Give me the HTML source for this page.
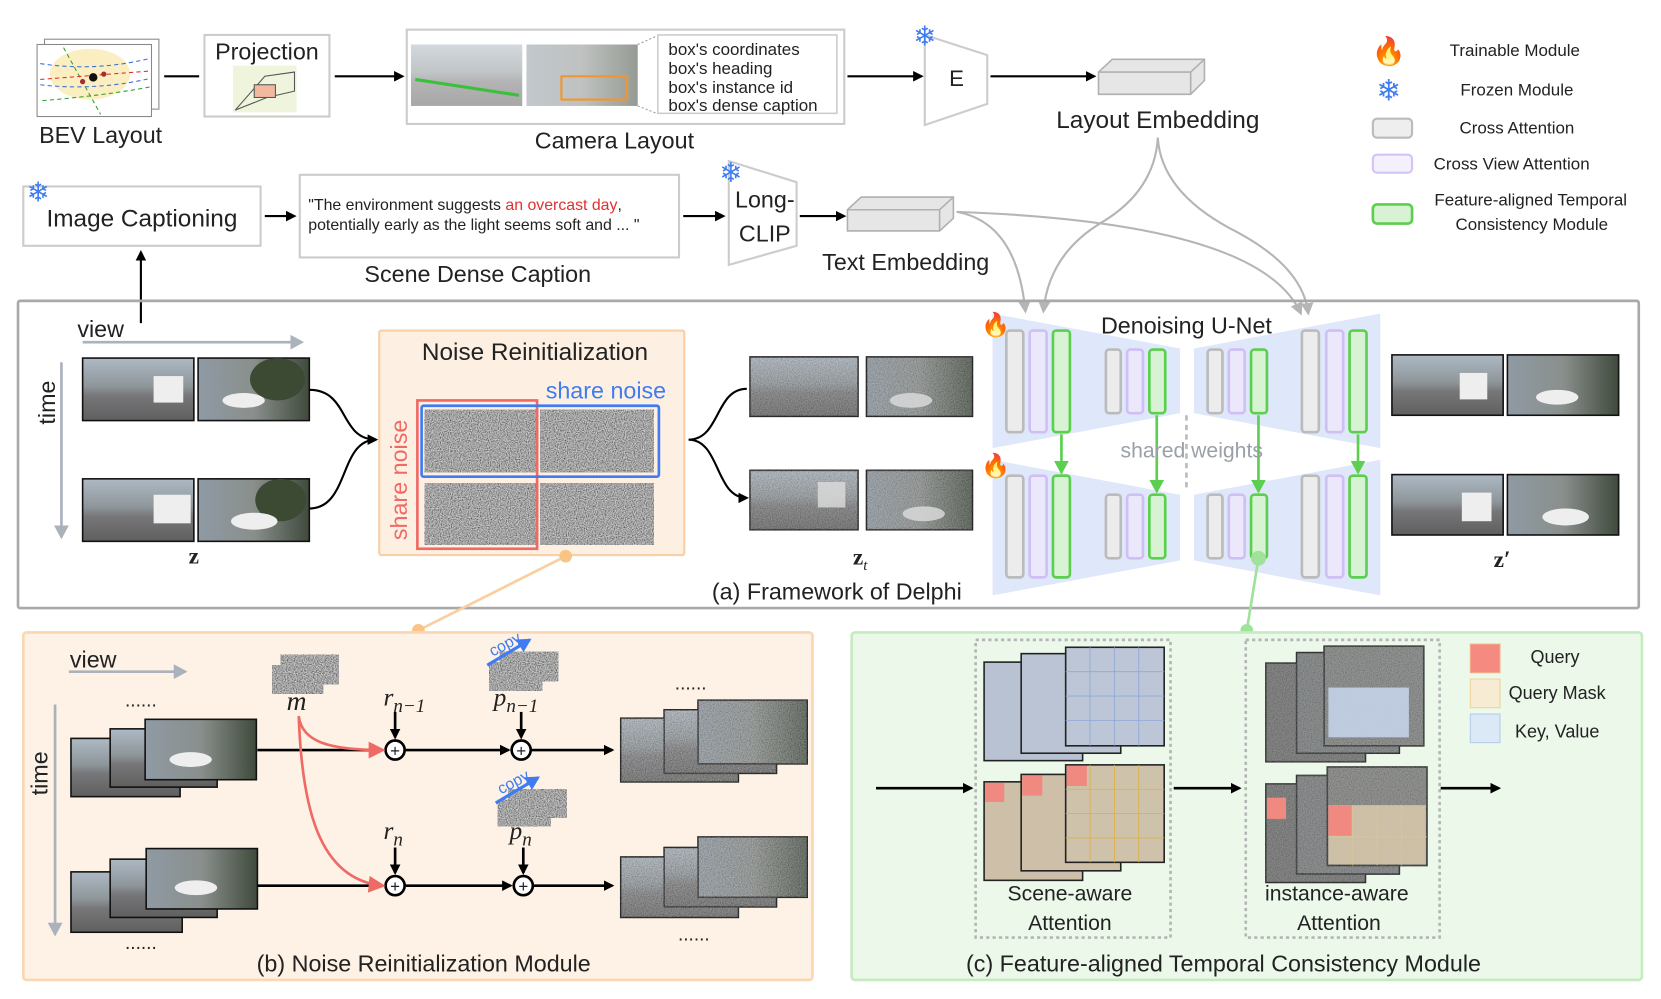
<!DOCTYPE html>
<html><head><meta charset="utf-8"><style>
html,body{margin:0;padding:0;background:#fff;width:1661px;height:999px;overflow:hidden}
svg{display:block}
text{font-family:"Liberation Sans",sans-serif;fill:#222}
.m{font-family:"Liberation Serif",serif;font-style:italic}
</style></head><body>
<svg width="1661" height="999" viewBox="0 0 1568 943" preserveAspectRatio="none" xmlns="http://www.w3.org/2000/svg">
<defs>
<linearGradient id="ph" x1="0" y1="0" x2="0" y2="1">
<stop offset="0" stop-color="#aeb9c4"/><stop offset="0.45" stop-color="#8e969a"/><stop offset="0.6" stop-color="#77777a"/><stop offset="1" stop-color="#5f5f5e"/></linearGradient>
<linearGradient id="ph2" x1="0" y1="0" x2="1" y2="0">
<stop offset="0" stop-color="#8f9aa4"/><stop offset="0.5" stop-color="#8a8f8c"/><stop offset="1" stop-color="#3f4a3c"/></linearGradient>
<filter id="nz" x="0" y="0" width="1" height="1"><feTurbulence type="fractalNoise" baseFrequency="0.95" numOctaves="1" seed="3"/><feColorMatrix type="matrix" values="1.1 0 0 0 -0.18 1.1 0 0 0 -0.18 1.1 0 0 0 -0.18 0 0 0 0 1"/></filter>
<marker id="ab" markerWidth="10" markerHeight="10" refX="8" refY="5" orient="auto" markerUnits="userSpaceOnUse"><path d="M0,0 L10,5 L0,10 z" fill="#000"/></marker>
<marker id="ag" markerWidth="14" markerHeight="14" refX="11" refY="7" orient="auto" markerUnits="userSpaceOnUse"><path d="M0,0 L13,7 L0,14 z" fill="#aab2bb"/></marker>
<marker id="agr" markerWidth="12" markerHeight="12" refX="10" refY="6" orient="auto" markerUnits="userSpaceOnUse"><path d="M0,0 L12,6 L0,12 z" fill="#b5b5b5"/></marker>
<marker id="agn" markerWidth="14" markerHeight="14" refX="11" refY="7" orient="auto" markerUnits="userSpaceOnUse"><path d="M0,0 L13,7 L0,14 z" fill="#5ccf4e"/></marker>
<marker id="ar" markerWidth="16" markerHeight="16" refX="13" refY="8" orient="auto" markerUnits="userSpaceOnUse"><path d="M0,0 L16,8 L0,16 z" fill="#f06a65"/></marker>
<marker id="abl" markerWidth="14" markerHeight="14" refX="11" refY="7" orient="auto" markerUnits="userSpaceOnUse"><path d="M0,0 L13,7 L0,14 z" fill="#3f7cf2"/></marker>
</defs>

<!-- ===== TOP ROW ===== -->
<rect x="42" y="37" width="108" height="66" fill="#fff" stroke="#888"/>
<rect x="35" y="42" width="108" height="68" fill="#fff" stroke="#888"/>
<ellipse cx="85" cy="70" rx="38" ry="24" fill="#fbefc2"/>
<path d="M38,60 Q90,68 142,55 M38,80 Q90,86 142,74" stroke="#3a6fd8" stroke-dasharray="4,3" fill="none"/>
<path d="M40,95 Q100,90 142,82 M60,45 L95,108" stroke="#30a030" stroke-dasharray="4,3" fill="none"/>
<path d="M38,75 L142,67" stroke="#e03030" stroke-dasharray="4,3" fill="none"/>
<circle cx="88" cy="73" r="4" fill="#111"/><circle cx="78" cy="77" r="2.5" fill="#a03030"/><circle cx="98" cy="70" r="2.5" fill="#a03030"/>
<text x="95" y="135" font-size="22" text-anchor="middle">BEV Layout</text>
<line x1="155" y1="72" x2="188" y2="72" stroke="#000" stroke-width="2"/>
<rect x="193" y="33" width="118" height="77" fill="#fff" stroke="#ccc" stroke-width="2"/>
<text x="252" y="56" font-size="22" text-anchor="middle">Projection</text>
<rect x="220" y="62" width="60" height="44" fill="#eef5dc"/>
<path d="M222,104 L250,72 L278,68 L278,86 L252,92 z" fill="none" stroke="#555"/><rect x="240" y="80" width="20" height="12" fill="#f2b8a0" stroke="#555"/>
<line x1="316" y1="72" x2="380" y2="72" stroke="#000" stroke-width="2" marker-end="url(#ab)"/>
<rect x="384" y="28" width="413" height="89" fill="#fff" stroke="#ccc" stroke-width="2"/>
<rect x="388" y="42" width="105" height="58" fill="url(#ph)" opacity="0.55"/>
<rect x="497" y="42" width="105" height="58" fill="url(#ph2)" opacity="0.55"/>
<line x1="392" y1="75" x2="490" y2="90" stroke="#3cc03c" stroke-width="3"/>
<rect x="530" y="72" width="62" height="22" fill="none" stroke="#f0962e" stroke-width="2"/>
<path d="M602,42 L620,34 M602,100 L620,107" stroke="#999" stroke-dasharray="2,2"/>
<rect x="621" y="33" width="169" height="74" fill="#fff" stroke="#ccc" stroke-width="1.5"/>
<text font-size="16" x="631" y="52">box's coordinates</text>
<text font-size="16" x="631" y="70">box's heading</text>
<text font-size="16" x="631" y="88">box's instance id</text>
<text font-size="16" x="631" y="105">box's dense caption</text>
<text x="580" y="140" font-size="22" text-anchor="middle">Camera Layout</text>
<line x1="800" y1="72" x2="870" y2="72" stroke="#000" stroke-width="2" marker-end="url(#ab)"/>
<path d="M873,33 L932,52 L932,98 L873,118 z" fill="#fff" stroke="#ccc" stroke-width="2"/>
<text x="903" y="81" font-size="21" text-anchor="middle">E</text>
<text x="873" y="43" font-size="26" text-anchor="middle" style="fill:#3f7cf2">❄</text>
<line x1="935" y1="72" x2="1033" y2="72" stroke="#000" stroke-width="2" marker-end="url(#ab)"/>
<path d="M1037,68 L1050,56 L1137,56 L1137,76 L1124,89 L1037,89 z" fill="#e6e6e6" stroke="#b0b0b0" stroke-width="1.5"/>
<path d="M1037,68 L1124,68 L1137,56 M1124,68 L1124,89" fill="none" stroke="#b0b0b0" stroke-width="1.5"/>
<text x="1093" y="121" font-size="23" text-anchor="middle">Layout Embedding</text>

<!-- legend -->
<text x="1311" y="57" font-size="26" text-anchor="middle">🔥</text>
<text x="1430" y="53" font-size="16" text-anchor="middle">Trainable Module</text>
<text x="1311" y="95" font-size="28" text-anchor="middle" style="fill:#3f7cf2">❄</text>
<text x="1432" y="90" font-size="16" text-anchor="middle">Frozen Module</text>
<rect x="1296" y="112" width="37" height="18" rx="4" fill="#eeeeee" stroke="#bbb" stroke-width="2"/>
<text x="1432" y="126" font-size="16" text-anchor="middle">Cross Attention</text>
<rect x="1296" y="146" width="37" height="17" rx="4" fill="#f5f0fd" stroke="#d4c4f5" stroke-width="2"/>
<text x="1427" y="160" font-size="16" text-anchor="middle">Cross View Attention</text>
<rect x="1296" y="193" width="37" height="18" rx="4" fill="#d8f3d3" stroke="#5ccf4e" stroke-width="2.5"/>
<text x="1445" y="194" font-size="16" text-anchor="middle">Feature-aligned Temporal</text>
<text x="1446" y="217" font-size="16" text-anchor="middle">Consistency Module</text>

<!-- second row -->
<rect x="22" y="176" width="224" height="56" fill="#fff" stroke="#ccc" stroke-width="2"/>
<text x="36" y="190" font-size="26" text-anchor="middle" style="fill:#3f7cf2">❄</text>
<text x="134" y="214" font-size="23" text-anchor="middle">Image Captioning</text>
<line x1="250" y1="204" x2="278" y2="204" stroke="#000" stroke-width="2" marker-end="url(#ab)"/>
<rect x="283" y="165" width="358" height="78" fill="#fff" stroke="#ccc" stroke-width="2"/>
<text x="291" y="198" font-size="15">"The environment suggests <tspan style="fill:#e03030">an overcast day</tspan>,</text>
<text x="291" y="217" font-size="15">potentially early as the light seems soft and ... "</text>
<text x="451" y="266" font-size="22" text-anchor="middle">Scene Dense Caption</text>
<line x1="645" y1="204" x2="683" y2="204" stroke="#000" stroke-width="2" marker-end="url(#ab)"/>
<path d="M688,152 L752,172 L752,232 L688,250 z" fill="#fff" stroke="#ccc" stroke-width="2"/>
<text x="690" y="172" font-size="26" text-anchor="middle" style="fill:#3f7cf2">❄</text>
<text x="722" y="196" font-size="22" text-anchor="middle">Long-</text>
<text x="722" y="228" font-size="22" text-anchor="middle">CLIP</text>
<line x1="755" y1="204" x2="797" y2="204" stroke="#000" stroke-width="2" marker-end="url(#ab)"/>
<path d="M800,198 L813,186 L900,186 L900,206 L887,218 L800,218 z" fill="#e6e6e6" stroke="#b0b0b0" stroke-width="1.5"/>
<path d="M800,198 L887,198 L900,186 M887,198 L887,218" fill="none" stroke="#b0b0b0" stroke-width="1.5"/>
<text x="855" y="255" font-size="22" text-anchor="middle">Text Embedding</text>
<line x1="133" y1="305" x2="133" y2="238" stroke="#000" stroke-width="2" marker-end="url(#ab)"/>

<!-- gray embedding curves -->
<g fill="none" stroke="#b5b5b5" stroke-width="2">
<path d="M1093,130 Q1090,180 1040,210 Q990,240 985,294" marker-end="url(#agr)"/>
<path d="M1093,130 Q1096,180 1160,215 Q1230,250 1235,296" marker-end="url(#agr)"/>
<path d="M903,200 Q960,210 968,294" marker-end="url(#agr)"/>
<path d="M903,200 Q1190,210 1228,296" marker-end="url(#agr)"/>
</g>

<!-- ===== (a) FRAMEWORK ===== -->
<rect x="17" y="284" width="1530" height="290" fill="none" stroke="#a9a9a9" stroke-width="2.5" rx="2"/>
<text x="95" y="318" font-size="22" text-anchor="middle">view</text>
<line x1="78" y1="323" x2="285" y2="323" stroke="#aab2bb" stroke-width="2.5" marker-end="url(#ag)"/>
<text x="52" y="380" font-size="22" text-anchor="middle" transform="rotate(-90 52 380)">time</text>
<line x1="58" y1="342" x2="58" y2="507" stroke="#aab2bb" stroke-width="2.5" marker-end="url(#ag)"/>
<g stroke="#111" stroke-width="1.5">
<rect x="78" y="338" width="105" height="59" fill="url(#ph)"/><rect x="187" y="338" width="105" height="59" fill="url(#ph2)"/>
<rect x="78" y="452" width="105" height="59" fill="url(#ph)"/><rect x="187" y="452" width="105" height="59" fill="url(#ph2)"/>
</g>
<g fill="#3c4a34"><ellipse cx="262" cy="358" rx="26" ry="20"/><ellipse cx="265" cy="472" rx="24" ry="20"/><ellipse cx="1497" cy="355" rx="26" ry="20"/><ellipse cx="1500" cy="468" rx="24" ry="20"/><ellipse cx="888" cy="355" rx="24" ry="18"/><ellipse cx="890" cy="462" rx="24" ry="18"/></g>
<rect x="145" y="355" width="28" height="25" fill="#eee"/><rect x="145" y="467" width="35" height="27" fill="#eee"/>
<ellipse cx="230" cy="378" rx="20" ry="7" fill="#eee"/><ellipse cx="240" cy="492" rx="22" ry="8" fill="#eee"/>
<text x="183" y="532" font-size="22" font-weight="bold" text-anchor="middle" style="font-family:'Liberation Serif',serif">z</text>
<path d="M292,368 C330,368 320,415 355,415 M292,480 C330,480 320,415 355,415" fill="none" stroke="#000" stroke-width="2" marker-end="url(#ab)"/>

<rect x="358" y="312" width="288" height="212" fill="#fdf0e2" stroke="#f9cfa5" stroke-width="2" rx="2"/>
<text x="505" y="340" font-size="23" text-anchor="middle">Noise Reinitialization</text>
<text x="572" y="376" font-size="22" text-anchor="middle" style="fill:#3f7cf2">share noise</text>
<text x="384" y="453" font-size="22" text-anchor="middle" style="fill:#f06a65" transform="rotate(-90 384 453)">share noise</text>
<rect x="401" y="387" width="107" height="59" filter="url(#nz)"/><rect x="510" y="387" width="107" height="59" filter="url(#nz)"/>
<rect x="401" y="456" width="107" height="58" filter="url(#nz)"/><rect x="510" y="456" width="107" height="58" filter="url(#nz)"/>
<rect x="394" y="378" width="113" height="140" fill="none" stroke="#f06a65" stroke-width="2.5"/>
<rect x="398" y="383" width="224" height="67" fill="none" stroke="#3f7cf2" stroke-width="2.5" rx="2"/>
<path d="M650,415 C680,415 675,367 705,367 M650,415 C680,415 675,470 705,470" fill="none" stroke="#000" stroke-width="2" marker-end="url(#ab)"/>
<g stroke="#111" stroke-width="1.5">
<rect x="708" y="337" width="102" height="56" fill="url(#ph)"/><rect x="818" y="337" width="100" height="56" fill="url(#ph2)"/>
<rect x="708" y="444" width="102" height="56" fill="url(#ph)"/><rect x="818" y="444" width="100" height="56" fill="url(#ph2)"/>
</g>
<g opacity="0.35"><rect x="708" y="337" width="102" height="56" filter="url(#nz)"/><rect x="818" y="337" width="100" height="56" filter="url(#nz)"/><rect x="708" y="444" width="102" height="56" filter="url(#nz)"/><rect x="818" y="444" width="100" height="56" filter="url(#nz)"/></g>
<rect x="772" y="455" width="26" height="24" fill="#ddd" opacity="0.8"/><ellipse cx="860" cy="378" rx="20" ry="7" fill="#ddd" opacity="0.8"/><ellipse cx="872" cy="485" rx="20" ry="7" fill="#ddd" opacity="0.8"/>
<text x="812" y="533" font-size="22" font-weight="bold" text-anchor="middle" style="font-family:'Liberation Serif',serif">z<tspan font-size="14" font-weight="normal" font-style="italic" dy="5">t</tspan></text>

<!-- U-Net -->
<g fill="#dfe7fb">
<path d="M937,296 L1114,329 L1114,390 L937,423 z"/><path d="M1127,329 L1303,296 L1303,423 L1127,390 z"/>
<path d="M937,434 L1114,467 L1114,529 L937,562 z"/><path d="M1127,467 L1303,434 L1303,562 L1127,529 z"/>
</g>
<text x="1120" y="315" font-size="22" text-anchor="middle">Denoising U-Net</text>
<text x="940" y="314" font-size="22" text-anchor="middle">🔥</text><text x="940" y="447" font-size="22" text-anchor="middle">🔥</text>
<g stroke-width="2.5">
<g><rect x="950" y="312" width="16" height="96" rx="3" fill="#ececec" stroke="#bbb"/><rect x="972" y="312" width="16" height="96" rx="3" fill="#ece8fb" stroke="#d0bff5"/><rect x="994" y="312" width="16" height="96" rx="3" fill="#d8f3d3" stroke="#5ccf4e"/></g>
<g><rect x="950" y="449" width="16" height="96" rx="3" fill="#ececec" stroke="#bbb"/><rect x="972" y="449" width="16" height="96" rx="3" fill="#ece8fb" stroke="#d0bff5"/><rect x="994" y="449" width="16" height="96" rx="3" fill="#d8f3d3" stroke="#5ccf4e"/></g>
<g><rect x="1229" y="312" width="16" height="96" rx="3" fill="#ececec" stroke="#bbb"/><rect x="1252" y="312" width="16" height="96" rx="3" fill="#ece8fb" stroke="#d0bff5"/><rect x="1274" y="312" width="16" height="96" rx="3" fill="#d8f3d3" stroke="#5ccf4e"/></g>
<g><rect x="1229" y="449" width="16" height="96" rx="3" fill="#ececec" stroke="#bbb"/><rect x="1252" y="449" width="16" height="96" rx="3" fill="#ece8fb" stroke="#d0bff5"/><rect x="1274" y="449" width="16" height="96" rx="3" fill="#d8f3d3" stroke="#5ccf4e"/></g>
<g><rect x="1044" y="330" width="14" height="60" rx="3" fill="#ececec" stroke="#bbb"/><rect x="1064" y="330" width="15" height="60" rx="3" fill="#ece8fb" stroke="#d0bff5"/><rect x="1085" y="330" width="15" height="60" rx="3" fill="#d8f3d3" stroke="#5ccf4e"/></g>
<g><rect x="1044" y="467" width="14" height="60" rx="3" fill="#ececec" stroke="#bbb"/><rect x="1064" y="467" width="15" height="60" rx="3" fill="#ece8fb" stroke="#d0bff5"/><rect x="1085" y="467" width="15" height="60" rx="3" fill="#d8f3d3" stroke="#5ccf4e"/></g>
<g><rect x="1140" y="330" width="14" height="60" rx="3" fill="#ececec" stroke="#bbb"/><rect x="1160" y="330" width="15" height="60" rx="3" fill="#ece8fb" stroke="#d0bff5"/><rect x="1181" y="330" width="15" height="60" rx="3" fill="#d8f3d3" stroke="#5ccf4e"/></g>
<g><rect x="1140" y="467" width="14" height="60" rx="3" fill="#ececec" stroke="#bbb"/><rect x="1160" y="467" width="15" height="60" rx="3" fill="#ece8fb" stroke="#d0bff5"/><rect x="1181" y="467" width="15" height="60" rx="3" fill="#d8f3d3" stroke="#5ccf4e"/></g>
</g>
<g stroke="#5ccf4e" stroke-width="2.5">
<line x1="1002" y1="410" x2="1002" y2="446" marker-end="url(#agn)"/><line x1="1092" y1="392" x2="1092" y2="464" marker-end="url(#agn)"/>
<line x1="1188" y1="392" x2="1188" y2="464" marker-end="url(#agn)"/><line x1="1282" y1="410" x2="1282" y2="446" marker-end="url(#agn)"/>
</g>
<line x1="1120" y1="392" x2="1120" y2="460" stroke="#bbb" stroke-width="2.5" stroke-dasharray="5,4"/>
<text x="1125" y="432" font-size="20" text-anchor="middle" style="fill:#9aa0a8">shared weights</text>

<g stroke="#111" stroke-width="1.5">
<rect x="1314" y="335" width="105" height="57" fill="url(#ph)"/><rect x="1423" y="335" width="105" height="57" fill="url(#ph2)"/>
<rect x="1314" y="448" width="105" height="57" fill="url(#ph)"/><rect x="1423" y="448" width="105" height="57" fill="url(#ph2)"/>
</g>
<rect x="1378" y="352" width="26" height="25" fill="#eee"/><rect x="1380" y="465" width="28" height="27" fill="#eee"/>
<ellipse cx="1470" cy="375" rx="20" ry="7" fill="#eee"/><ellipse cx="1478" cy="488" rx="22" ry="8" fill="#eee"/>
<text x="1418" y="535" font-size="22" font-weight="bold" text-anchor="middle" style="font-family:'Liberation Serif',serif">z′</text>
<text x="790" y="566" font-size="22" text-anchor="middle">(a) Framework of Delphi</text>

<!-- connectors -->
<line x1="534" y1="525" x2="395" y2="595" stroke="#f9cfa0" stroke-width="2.5"/>
<circle cx="534" cy="525" r="6" fill="#f9c587"/><circle cx="395" cy="595" r="6" fill="#f9c587"/>
<line x1="1188" y1="527" x2="1177" y2="595" stroke="#9fe29a" stroke-width="2.5"/>
<circle cx="1188" cy="527" r="7" fill="#9fe29a"/><circle cx="1177" cy="595" r="6" fill="#9fe29a"/>

<!-- ===== (b) ===== -->
<rect x="22" y="597" width="745" height="328" fill="#fdf2e5" stroke="#f9d7b3" stroke-width="2.5" rx="3"/>
<text x="88" y="630" font-size="22" text-anchor="middle">view</text>
<line x1="65" y1="634" x2="175" y2="634" stroke="#aab2bb" stroke-width="2.5" marker-end="url(#ag)"/>
<text x="45" y="730" font-size="22" text-anchor="middle" transform="rotate(-90 45 730)">time</text>
<line x1="52" y1="665" x2="52" y2="882" stroke="#aab2bb" stroke-width="2.5" marker-end="url(#ag)"/>
<text x="133" y="667" font-size="18" text-anchor="middle">......</text><text x="133" y="896" font-size="18" text-anchor="middle">......</text>
<text x="652" y="651" font-size="18" text-anchor="middle">......</text><text x="655" y="888" font-size="18" text-anchor="middle">......</text>
<g stroke="#111" stroke-width="1.5">
<rect x="67" y="697" width="103" height="55" fill="url(#ph)"/><rect x="104" y="688" width="101" height="55" fill="url(#ph)"/><rect x="137" y="679" width="105" height="57" fill="url(#ph2)"/>
<rect x="67" y="823" width="105" height="57" fill="url(#ph)"/><rect x="104" y="811" width="101" height="55" fill="url(#ph)"/><rect x="138" y="801" width="105" height="57" fill="url(#ph2)"/>
<rect x="586" y="678" width="111" height="60" fill="url(#ph)"/><rect x="627" y="670" width="106" height="60" fill="url(#ph)"/><rect x="659" y="661" width="103" height="60" fill="url(#ph2)"/>
<rect x="586" y="809" width="111" height="57" fill="url(#ph)"/><rect x="627" y="800" width="106" height="56" fill="url(#ph)"/><rect x="659" y="790" width="103" height="57" fill="url(#ph2)"/>
</g>
<ellipse cx="180" cy="717" rx="20" ry="7" fill="#eee"/><ellipse cx="185" cy="838" rx="20" ry="7" fill="#eee"/>
<g opacity="0.4"><rect x="586" y="678" width="111" height="60" filter="url(#nz)"/><rect x="627" y="670" width="106" height="60" filter="url(#nz)"/><rect x="659" y="661" width="103" height="60" filter="url(#nz)"/>
<rect x="586" y="809" width="111" height="57" filter="url(#nz)"/><rect x="627" y="800" width="106" height="56" filter="url(#nz)"/><rect x="659" y="790" width="103" height="57" filter="url(#nz)"/></g>
<rect x="257" y="628" width="48" height="27" filter="url(#nz)"/><rect x="265" y="618" width="55" height="28" filter="url(#nz)"/>
<text x="280" y="670" font-size="26" text-anchor="middle" class="m">m</text>
<rect x="462" y="625" width="50" height="27" filter="url(#nz)"/><rect x="472" y="615" width="55" height="28" filter="url(#nz)"/>
<rect x="470" y="755" width="50" height="25" filter="url(#nz)"/><rect x="480" y="745" width="55" height="27" filter="url(#nz)"/>
<text x="465" y="620" font-size="15" transform="rotate(-28 465 620)" style="fill:#3f7cf2">copy</text>
<line x1="460" y1="628" x2="500" y2="604" stroke="#3f7cf2" stroke-width="3" marker-end="url(#abl)"/>
<text x="473" y="750" font-size="15" transform="rotate(-28 473 750)" style="fill:#3f7cf2">copy</text>
<line x1="468" y1="758" x2="508" y2="734" stroke="#3f7cf2" stroke-width="3" marker-end="url(#abl)"/>
<text x="362" y="666" font-size="24" class="m">r<tspan font-size="18" dy="6">n−1</tspan></text>
<text x="466" y="666" font-size="24" class="m">p<tspan font-size="18" dy="6">n−1</tspan></text>
<text x="362" y="792" font-size="24" class="m">r<tspan font-size="18" dy="6">n</tspan></text>
<text x="481" y="792" font-size="24" class="m">p<tspan font-size="18" dy="6">n</tspan></text>
<g stroke="#000" stroke-width="2.5" fill="none">
<line x1="373" y1="672" x2="373" y2="696" marker-end="url(#ab)"/><line x1="492" y1="672" x2="492" y2="696" marker-end="url(#ab)"/>
<line x1="373" y1="800" x2="373" y2="824" marker-end="url(#ab)"/><line x1="494" y1="800" x2="494" y2="824" marker-end="url(#ab)"/>
<line x1="243" y1="708" x2="355" y2="708"/><line x1="243" y1="836" x2="355" y2="836"/>
<line x1="383" y1="708" x2="480" y2="708" marker-end="url(#ab)"/><line x1="502" y1="708" x2="578" y2="708" marker-end="url(#ab)"/>
<line x1="383" y1="836" x2="482" y2="836" marker-end="url(#ab)"/><line x1="504" y1="836" x2="578" y2="836" marker-end="url(#ab)"/>
<circle cx="373" cy="708" r="9" fill="#fff"/><circle cx="492" cy="708" r="9" fill="#fff"/><circle cx="373" cy="836" r="9" fill="#fff"/><circle cx="494" cy="836" r="9" fill="#fff"/>
</g>
<g font-size="16" text-anchor="middle"><text x="373" y="714">+</text><text x="492" y="714">+</text><text x="373" y="842">+</text><text x="494" y="842">+</text></g>
<g stroke="#f06a65" stroke-width="2.5" fill="none">
<path d="M282,676 C285,700 310,708 361,708" marker-end="url(#ar)"/>
<path d="M282,676 C285,760 300,830 361,836" marker-end="url(#ar)"/>
</g>
<text x="400" y="917" font-size="22" text-anchor="middle">(b) Noise Reinitialization Module</text>

<!-- ===== (c) ===== -->
<rect x="804" y="597" width="746" height="328" fill="#ebf8ea" stroke="#c4ecc0" stroke-width="2.5" rx="3"/>
<rect x="921" y="604" width="184" height="281" fill="none" stroke="#b5b5b5" stroke-width="2.5" stroke-dasharray="3,3"/>
<rect x="1176" y="604" width="183" height="281" fill="none" stroke="#b5b5b5" stroke-width="2.5" stroke-dasharray="3,3"/>
<g stroke="#000" stroke-width="2.5">
<line x1="827" y1="744" x2="917" y2="744" marker-end="url(#ab)"/><line x1="1108" y1="744" x2="1170" y2="744" marker-end="url(#ab)"/><line x1="1360" y1="744" x2="1415" y2="744" marker-end="url(#ab)"/>
</g>
<g stroke="#222" stroke-width="1.5">
<rect x="929" y="625" width="93" height="93" fill="#b8c2d2"/><rect x="964" y="617" width="94" height="94" fill="#bac4d4"/><rect x="1006" y="611" width="93" height="93" fill="#bcc6d6"/>
<rect x="929" y="738" width="93" height="93" fill="#cdbfa8"/><rect x="964" y="731" width="94" height="91" fill="#cdbfa8"/><rect x="1006" y="722" width="93" height="92" fill="#cfc2ab"/>
<rect x="1195" y="626" width="94" height="93" fill="#6b6d6b"/><rect x="1224" y="616" width="97" height="95" fill="#767a7a"/><rect x="1250" y="610" width="94" height="94" fill="#7d807e"/>
<rect x="1195" y="740" width="94" height="93" fill="#6b6d6b"/><rect x="1224" y="732" width="97" height="93" fill="#777a7b"/><rect x="1253" y="724" width="94" height="93" fill="#7e807d"/>
</g>
<g opacity="0.3"><rect x="1195" y="626" width="94" height="93" filter="url(#nz)"/><rect x="1224" y="616" width="97" height="95" filter="url(#nz)"/><rect x="1250" y="610" width="94" height="94" filter="url(#nz)"/>
<rect x="1195" y="740" width="94" height="93" filter="url(#nz)"/><rect x="1224" y="732" width="97" height="93" filter="url(#nz)"/><rect x="1253" y="724" width="94" height="93" filter="url(#nz)"/></g>
<g stroke="#90a8d8" stroke-width="0.8" fill="none">
<path d="M1006,634 H1099 M1006,657 H1099 M1006,680 H1099 M1029,611 V704 M1052,611 V704 M1075,611 V704"/>
</g>
<g stroke="#e0b040" stroke-width="0.8" fill="none">
<path d="M1006,745 H1099 M1006,768 H1099 M1006,791 H1099 M1029,722 V814 M1052,722 V814 M1075,722 V814"/>
<path d="M1254,790 H1347 M1277,760 V817 M1300,760 V817 M1323,760 V817"/>
</g>
<rect x="930" y="739" width="18" height="18" fill="#f08a80"/><rect x="965" y="732" width="19" height="19" fill="#f08a80"/><rect x="1007" y="723" width="19" height="19" fill="#f08a80"/>
<rect x="1254" y="649" width="76" height="47" fill="#c8d6ec" opacity="0.85"/>
<rect x="1254" y="760" width="92" height="56" fill="#d8c9ab" opacity="0.85"/>
<rect x="1196" y="753" width="18" height="20" fill="#f08a80"/>
<rect x="1254" y="760" width="22" height="29" fill="#f08a80"/>
<text x="1010" y="850" font-size="20" text-anchor="middle">Scene-aware</text>
<text x="1010" y="878" font-size="20" text-anchor="middle">Attention</text>
<text x="1262" y="850" font-size="20" text-anchor="middle">instance-aware</text>
<text x="1264" y="878" font-size="20" text-anchor="middle">Attention</text>
<rect x="1388" y="608" width="28" height="27" fill="#f58a80" stroke="#f3b08a"/>
<rect x="1388" y="641" width="28" height="27" fill="#f7ebd3" stroke="#f0d29a"/>
<rect x="1388" y="674" width="28" height="27" fill="#dbe8f5" stroke="#b5cbe8"/>
<text x="1468" y="626" font-size="17" text-anchor="middle">Query</text>
<text x="1470" y="660" font-size="17" text-anchor="middle">Query Mask</text>
<text x="1470" y="696" font-size="17" text-anchor="middle">Key, Value</text>
<text x="1155" y="917" font-size="22" text-anchor="middle">(c) Feature-aligned Temporal Consistency Module</text>
</svg>
</body></html>
